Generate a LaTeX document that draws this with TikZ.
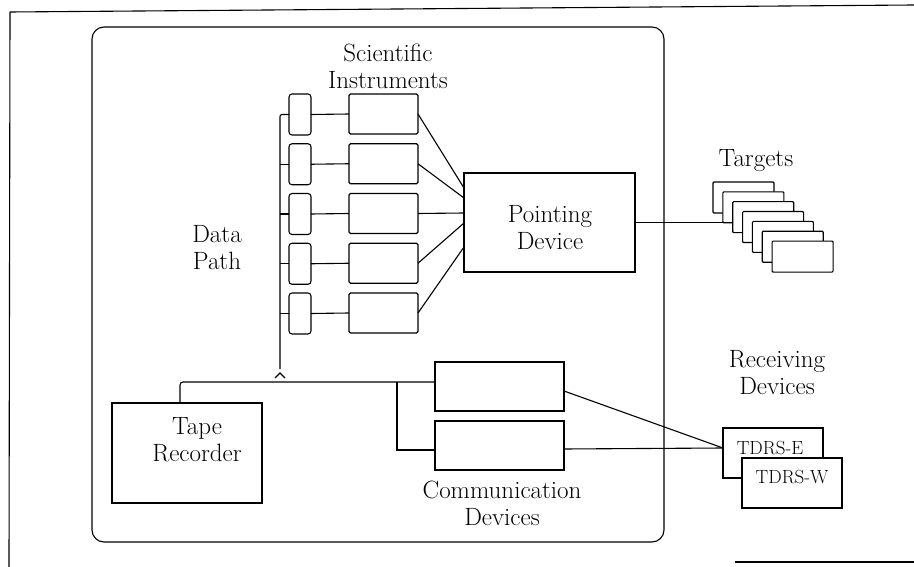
\documentclass[tikz,border=0pt]{standalone}
\usepackage{fontspec}
\usetikzlibrary{calc}
\begin{document}
\begin{tikzpicture}[x=1pt,y=-1pt, line width=1.1pt,
  box/.style={draw, inner sep=0pt, outer sep=0pt, anchor=north west},
  lbl/.style={inner sep=0pt, align=center, font=\fontsize{25}{27}\selectfont\addfontfeatures{LetterSpace=8}},
  smalltxt/.style={inner sep=0pt, anchor=base, font=\fontsize{19}{22}\selectfont\addfontfeatures{LetterSpace=5}}]
\useasboundingbox (0,0) rectangle (914,567);

% outer frame fragments
\draw (10,12) -- (914,5);
\draw (10,12) -- (9,567);
\draw (735,562) -- (914,562);

% main rounded enclosure
\draw[rounded corners=12pt] (92,27) rectangle (664,542);

% small interface boxes and scientific instruments
\foreach \i in {0,...,4} {
  \node[box, rounded corners=3pt, minimum width=22pt, minimum height=41pt] (s\i) at (289, 94+49.75*\i) {};
  \node[box, rounded corners=1.5pt, minimum width=69pt, minimum height=40pt] (i\i) at (349, 94+49.75*\i) {};
}

% pointing device
\node[box, minimum width=171pt, minimum height=99pt] (pd) at (464,173) {};

% data path bus
\coordinate (bb) at (280,369);
\draw[rounded corners=2pt] (s0.west) -| (bb);
\foreach \i in {1,...,4} {
  \draw (s\i.west) -- (s\i.west -| bb);
}
\foreach \i in {0,...,4} {
  \draw (s\i.east) -- (i\i.west);
}
\draw ($(bb)+(-5,9)$) -- ($(bb)+(0,4)$) -- ($(bb)+(5,9)$);

% instruments to pointing device
\draw (i0.east) -- ($(pd.north west)+(0,15)$);
\draw (i1.east) -- ($(pd.north west)+(0,25)$);
\draw (i2.east) -- ($(pd.north west)+(0,40)$);
\draw (i3.east) -- ($(pd.north west)+(0,50)$);
\draw (i4.east) -- ($(pd.north west)+(0,74)$);

% targets
\foreach \k in {0,...,6} {
  \node[box, fill=white, rounded corners=1pt, minimum width=61pt, minimum height=31pt] (t\k) at (713+9.85*\k, 182+9.85*\k) {};
}
\draw (pd.east) -- (pd.east -| t2.west);

% tape recorder and communication devices
\node[box, minimum width=150pt, minimum height=100pt] (tr) at (112,403) {};
\node[box, minimum width=129pt, minimum height=49pt] (c1) at (435,362) {};
\node[box, minimum width=129pt, minimum height=49pt] (c2) at (435,421) {};
\coordinate (cl1) at ($(c1.north west)+(0,20)$);
\draw[rounded corners=3pt] ($(tr.north west)+(68,0)$) |- (cl1);
\draw ($(cl1)+(-38,0)$) |- ($(c2.north west)+(0,29)$);

% receiving devices
\node[box, minimum width=100pt, minimum height=50pt] (te) at (723,428) {};
\node[box, fill=white, minimum width=100pt, minimum height=50pt] (tw) at (742,458) {};
\coordinate (rx) at ($(te.north west)+(0,20)$);
\draw ($(c1.north east)+(0,29)$) -- (rx);
\draw ($(c2.north east)+(0,28)$) -- (rx);

% labels
\node[lbl] (lsci) at (388,66) {Scientific\\Instruments};
\node[lbl] (ldp) at (217,248) {Data\\Path};
\node[lbl] (lpd) at (550,228) {Pointing\\Device};
\node[lbl] (ltr) at (197,440) {Tape\\Recorder};
\node[lbl] (lcd) at (502,503) {Communication\\Devices};
\node[lbl] (lrd) at (777,373) {Receiving\\Devices};
\node[lbl, anchor=base] (ltg) at (756,167) {Targets};
\node[smalltxt] (lte) at (770,454) {TDRS-E};
\node[smalltxt] (ltw) at (792,483) {TDRS-W};
\end{tikzpicture}
\end{document}
